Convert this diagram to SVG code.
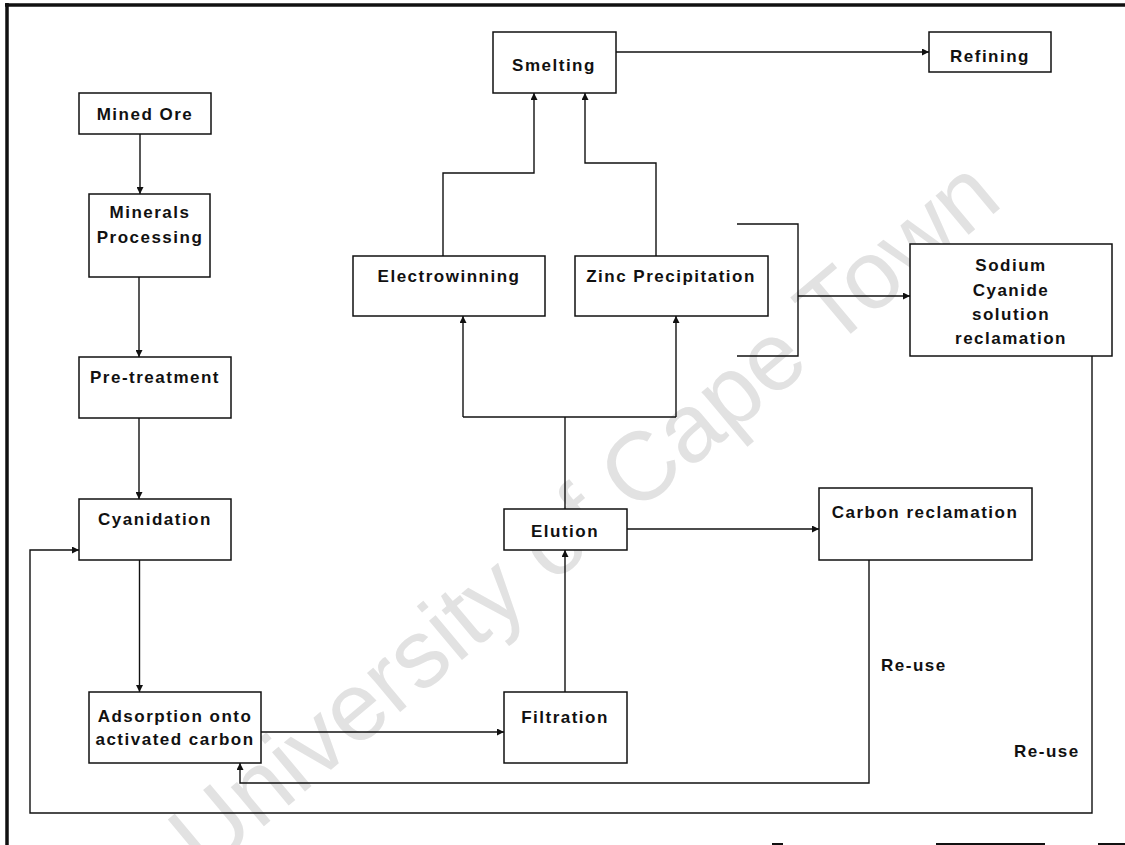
<svg xmlns="http://www.w3.org/2000/svg" width="1125" height="845" viewBox="0 0 1125 845">
<style>
.box{fill:#fff;stroke:#111;stroke-width:1.5}
.lbl{font-family:"Liberation Sans",Arial,sans-serif;font-weight:bold;font-size:17px;letter-spacing:1.5px;fill:#111;text-anchor:middle}
.note{font-family:"Liberation Sans",Arial,sans-serif;font-weight:bold;font-size:17px;letter-spacing:1.5px;fill:#111}
.ln{fill:none;stroke:#111;stroke-width:1.4}
.arr{fill:none;stroke:#111;stroke-width:1.4;marker-end:url(#ah)}
.wm{font-family:"Liberation Sans",Arial,sans-serif;font-size:97px;fill:#e2e2e2;text-anchor:middle}
</style>
<defs>
<marker id="ah" viewBox="0 0 10 10" refX="10" refY="5" markerUnits="userSpaceOnUse" markerWidth="9" markerHeight="7" orient="auto">
<path d="M0,0 L10,5 L0,10 z" fill="#111"/>
</marker>
</defs>
<rect width="1125" height="845" fill="#fff"/>
<g id="watermark">
<text class="wm" transform="translate(605,540) rotate(-40)">University of Cape Town</text>
</g>
<g id="frame" fill="none" stroke="#111">
<line x1="5" y1="5" x2="1125" y2="5" stroke-width="3.5"/>
<line x1="7" y1="3" x2="7" y2="845" stroke-width="3.5"/>
<line x1="772" y1="844" x2="783" y2="844" stroke-width="2"/>
<line x1="936" y1="844" x2="1045" y2="844" stroke-width="2"/>
<line x1="1098" y1="844" x2="1125" y2="844" stroke-width="2"/>
</g>
<g id="connectors">
<line class="arr" x1="140" y1="134" x2="140" y2="194"/>
<line class="arr" x1="139" y1="277" x2="139" y2="357"/>
<line class="arr" x1="139" y1="418" x2="139" y2="499"/>
<line class="arr" x1="139.5" y1="560" x2="139.5" y2="692"/>
<line class="arr" x1="261" y1="732" x2="504" y2="732"/>
<line class="arr" x1="565" y1="692" x2="565" y2="550"/>
<line class="ln" x1="565" y1="509" x2="565" y2="417"/>
<line class="ln" x1="463" y1="417" x2="676" y2="417"/>
<line class="arr" x1="463" y1="417" x2="463" y2="316"/>
<line class="arr" x1="676" y1="417" x2="676" y2="316"/>
<polyline class="arr" points="443,256 443,173 534,173 534,93"/>
<polyline class="arr" points="656,256 656,163 585,163 585,93"/>
<line class="arr" x1="616" y1="52" x2="929" y2="52"/>
<line class="arr" x1="627" y1="529" x2="819" y2="529"/>
<polyline class="ln" points="737,224 798,224 798,356 737,356"/>
<line class="arr" x1="798" y1="296" x2="910" y2="296"/>
<polyline class="arr" points="869,560 869,783 240,783 240,763"/>
<polyline class="arr" points="1092,356 1092,813 30,813 30,550 79,550"/>
</g>
<g id="mined-ore"><rect class="box" x="79" y="93" width="132" height="41"/><text class="lbl" x="145" y="120">Mined Ore</text></g>
<g id="minerals-processing"><rect class="box" x="89" y="194" width="121" height="83"/><text class="lbl" x="150" y="218">Minerals</text><text class="lbl" x="150" y="243">Processing</text></g>
<g id="pre-treatment"><rect class="box" x="79" y="357" width="152" height="61"/><text class="lbl" x="155" y="383">Pre-treatment</text></g>
<g id="cyanidation"><rect class="box" x="79" y="499" width="152" height="61"/><text class="lbl" x="155" y="525">Cyanidation</text></g>
<g id="adsorption"><rect class="box" x="89" y="692" width="172" height="71"/><text class="lbl" x="175" y="722">Adsorption onto</text><text class="lbl" x="175" y="745">activated carbon</text></g>
<g id="filtration"><rect class="box" x="504" y="692" width="123" height="71"/><text class="lbl" x="565" y="723">Filtration</text></g>
<g id="elution"><rect class="box" x="504" y="509" width="123" height="41"/><text class="lbl" x="565" y="537">Elution</text></g>
<g id="electrowinning"><rect class="box" x="353" y="256" width="192" height="60"/><text class="lbl" x="449" y="282">Electrowinning</text></g>
<g id="zinc-precipitation"><rect class="box" x="575" y="256" width="193" height="60"/><text class="lbl" x="671" y="282">Zinc Precipitation</text></g>
<g id="smelting"><rect class="box" x="493" y="32" width="123" height="61"/><text class="lbl" x="554" y="71">Smelting</text></g>
<g id="refining"><rect class="box" x="929" y="32" width="122" height="40"/><text class="lbl" x="990" y="62">Refining</text></g>
<g id="carbon-reclamation"><rect class="box" x="819" y="488" width="213" height="72"/><text class="lbl" x="925" y="518">Carbon reclamation</text></g>
<g id="sodium-cyanide"><rect class="box" x="910" y="244" width="202" height="112"/><text class="lbl" x="1011" y="271">Sodium</text><text class="lbl" x="1011" y="296">Cyanide</text><text class="lbl" x="1011" y="320">solution</text><text class="lbl" x="1011" y="344">reclamation</text></g>
<g id="labels"><text class="note" x="881" y="671">Re-use</text><text class="note" x="1014" y="757">Re-use</text></g>
</svg>
